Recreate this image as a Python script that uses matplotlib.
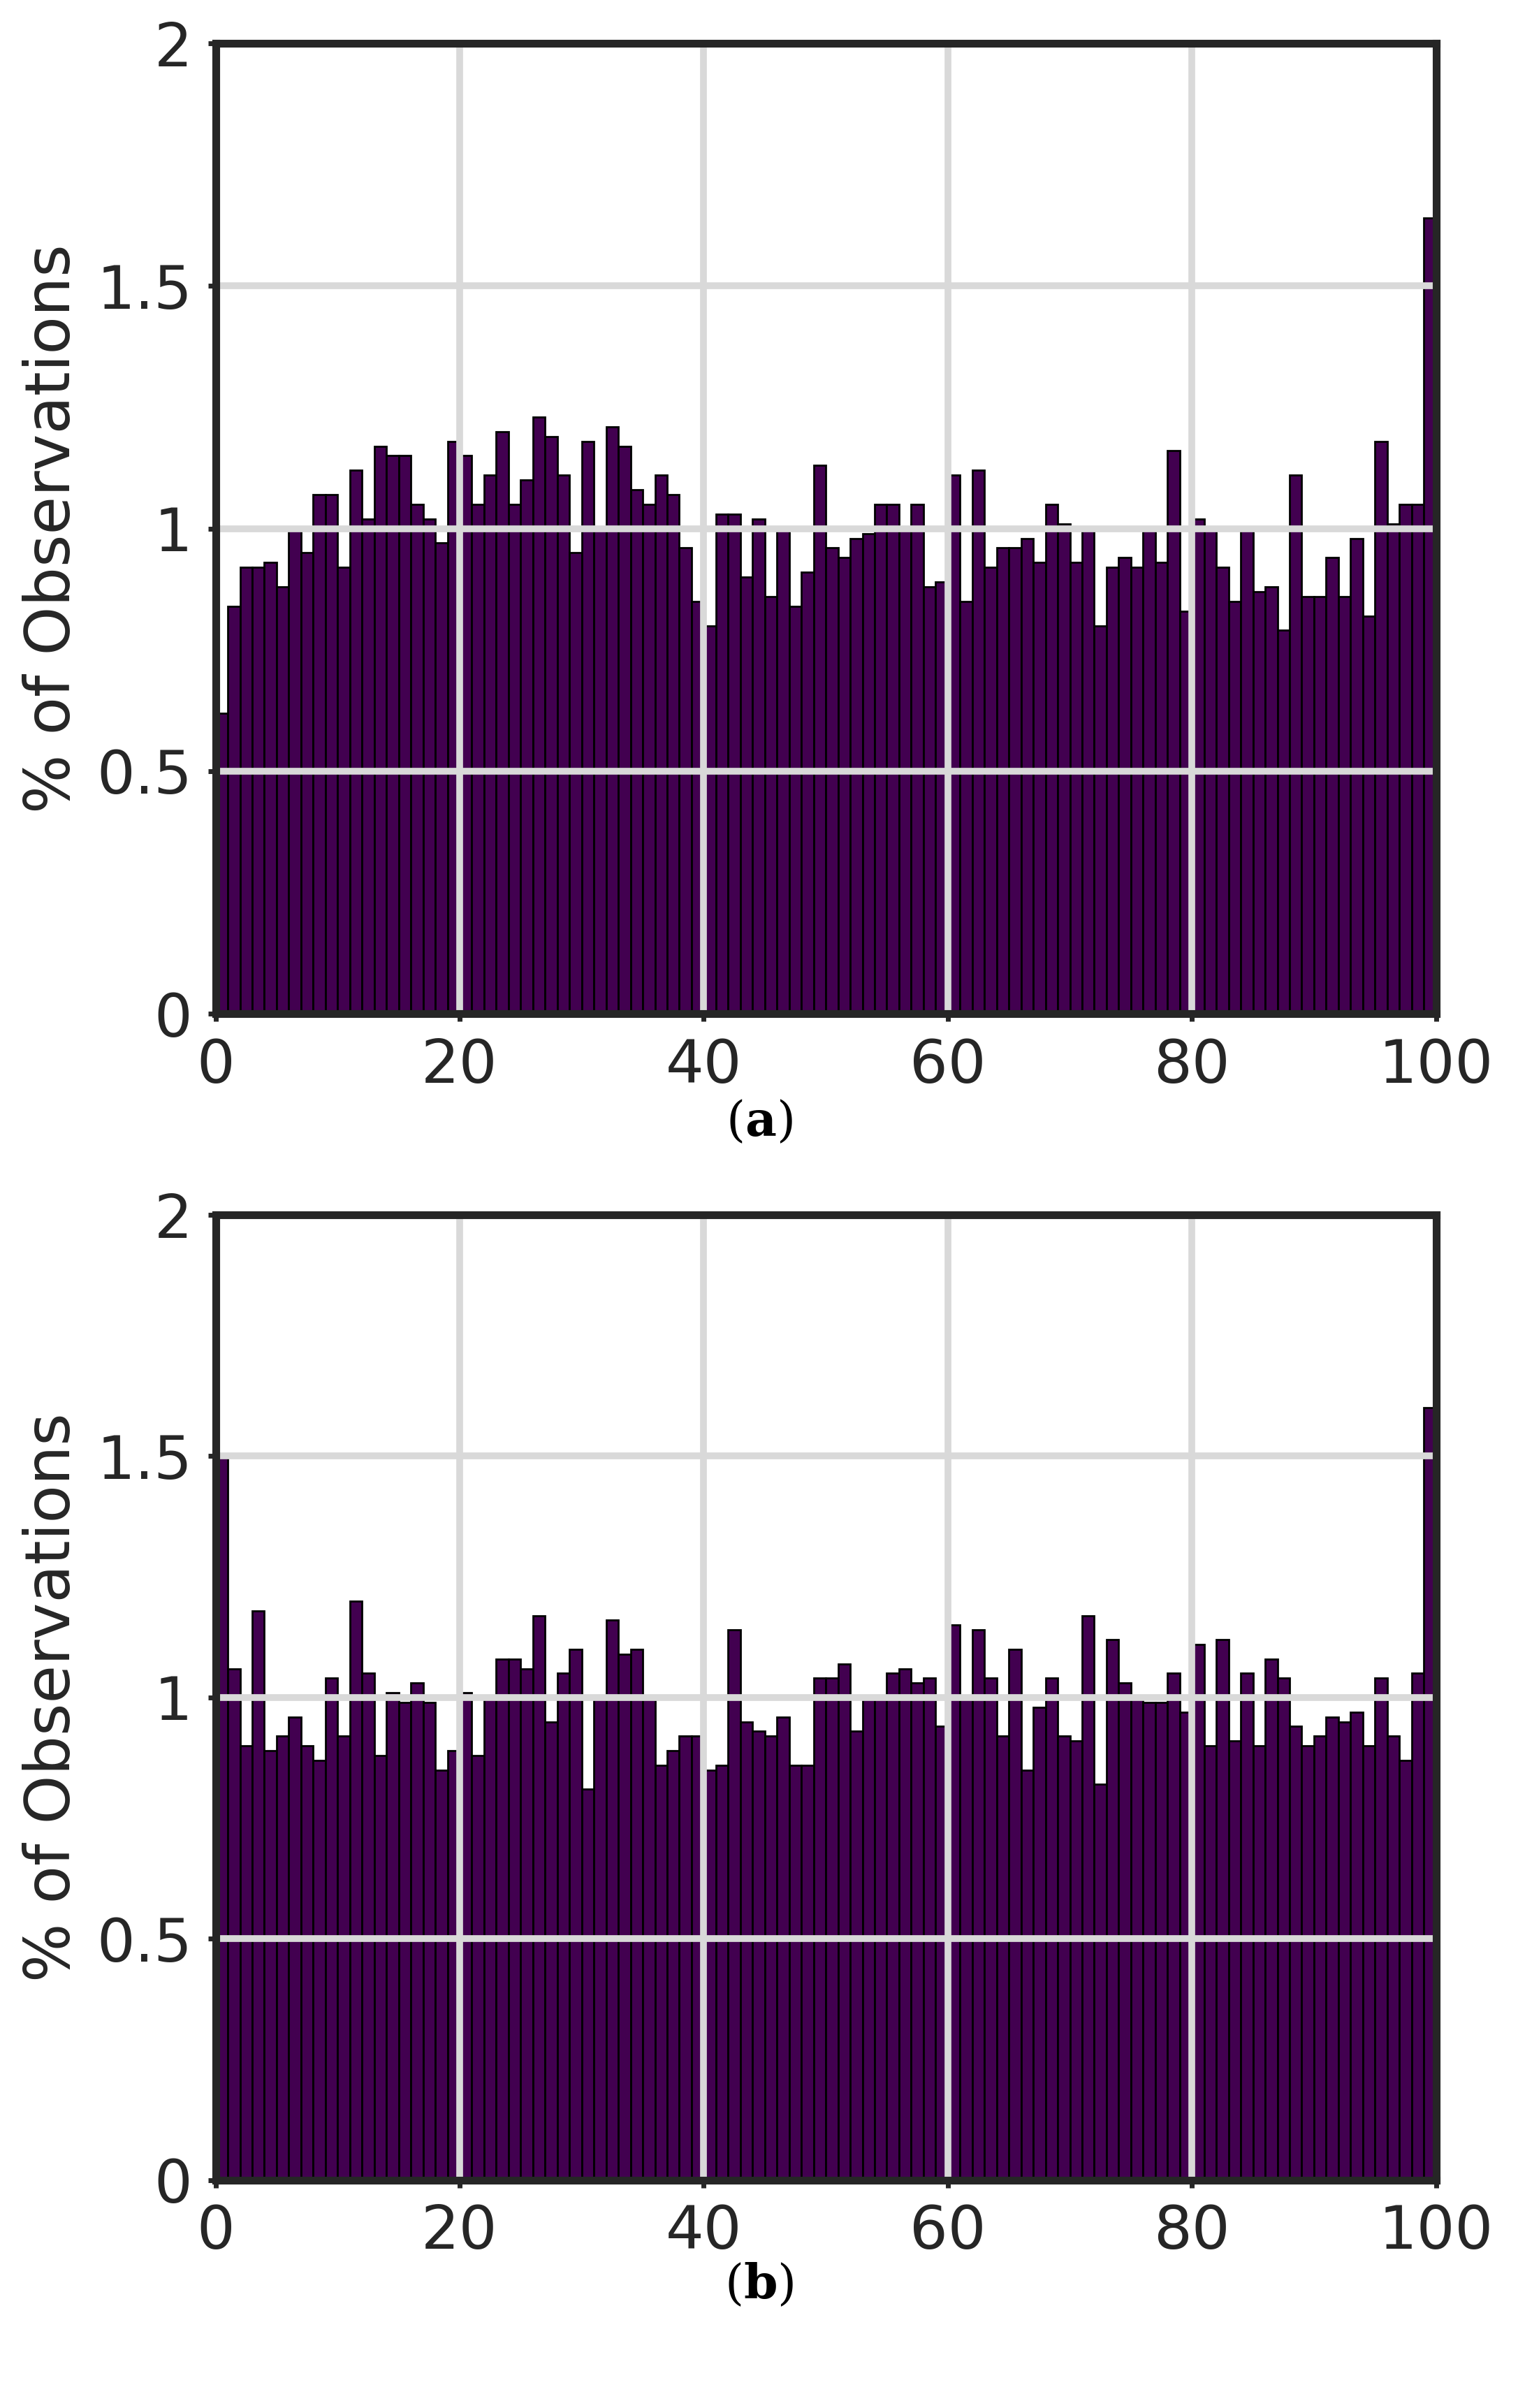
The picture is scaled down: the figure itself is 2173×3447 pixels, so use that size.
import numpy as np
import matplotlib
matplotlib.use("Agg")
import matplotlib.pyplot as plt

# bin values (% of observations), one per 1-unit bin from 0 to 100
vals_a = [0.62, 0.84, 0.92, 0.92, 0.93, 0.88, 1.00, 0.95, 1.07, 1.07,
          0.92, 1.12, 1.02, 1.17, 1.15, 1.15, 1.05, 1.02, 0.97, 1.18,
          1.15, 1.05, 1.11, 1.20, 1.05, 1.10, 1.23, 1.19, 1.11, 0.95,
          1.18, 1.00, 1.21, 1.17, 1.08, 1.05, 1.11, 1.07, 0.96, 0.85,
          0.80, 1.03, 1.03, 0.90, 1.02, 0.86, 1.00, 0.84, 0.91, 1.13,
          0.96, 0.94, 0.98, 0.99, 1.05, 1.05, 1.00, 1.05, 0.88, 0.89,
          1.11, 0.85, 1.12, 0.92, 0.96, 0.96, 0.98, 0.93, 1.05, 1.01,
          0.93, 1.00, 0.80, 0.92, 0.94, 0.92, 1.00, 0.93, 1.16, 0.83,
          1.02, 1.00, 0.92, 0.85, 1.00, 0.87, 0.88, 0.79, 1.11, 0.86,
          0.86, 0.94, 0.86, 0.98, 0.82, 1.18, 1.01, 1.05, 1.05, 1.64]
vals_b = [1.50, 1.06, 0.90, 1.18, 0.89, 0.92, 0.96, 0.90, 0.87, 1.04,
          0.92, 1.20, 1.05, 0.88, 1.01, 0.99, 1.03, 0.99, 0.85, 0.89,
          1.01, 0.88, 1.00, 1.08, 1.08, 1.06, 1.17, 0.95, 1.05, 1.10,
          0.81, 1.00, 1.16, 1.09, 1.10, 1.00, 0.86, 0.89, 0.92, 0.92,
          0.85, 0.86, 1.14, 0.95, 0.93, 0.92, 0.96, 0.86, 0.86, 1.04,
          1.04, 1.07, 0.93, 1.00, 1.00, 1.05, 1.06, 1.03, 1.04, 0.94,
          1.15, 1.00, 1.14, 1.04, 0.92, 1.10, 0.85, 0.98, 1.04, 0.92,
          0.91, 1.17, 0.82, 1.12, 1.03, 1.00, 0.99, 0.99, 1.05, 0.97,
          1.11, 0.90, 1.12, 0.91, 1.05, 0.90, 1.08, 1.04, 0.94, 0.90,
          0.92, 0.96, 0.95, 0.97, 0.90, 1.04, 0.92, 0.87, 1.05, 1.60]
bin_left = np.arange(100)
xticks = [0, 20, 40, 60, 80, 100]
yticks = [0, 0.5, 1, 1.5, 2]
ytick_labels = ["0", "0.5", "1", "1.5", "2"]
captions = ["a", "b"]

plt.rcParams["mathtext.fontset"] = "dejavuserif"
fig = plt.figure(figsize=(21.73, 34.47), dpi=100)
boxes = [[0.142, 0.579, 0.804, 0.403], [0.142, 0.0946, 0.804, 0.4009]]
cap_y = [0.534, 0.051]

for vals, box, cap, cy in zip([vals_a, vals_b], boxes, captions, cap_y):
    ax = fig.add_axes(box)
    ax.bar(bin_left, vals, width=1, align="edge", color="#420050",
           edgecolor="black", linewidth=2, zorder=2)
    ax.set_xlim(0, 100)
    ax.set_ylim(0, 2)
    ax.set_xticks(xticks)
    ax.set_yticks(yticks)
    ax.set_yticklabels(ytick_labels)
    ax.grid(True, color="#d9d9d9", linewidth=7, zorder=3)
    ax.set_axisbelow(False)
    for s in ax.spines.values():
        s.set_linewidth(8)
        s.set_color("#262626")
        s.set_zorder(4)
    ax.tick_params(labelsize=62, length=8, width=5, color="#262626",
                   labelcolor="#262626", pad=16)
    ax.set_ylabel("% of Observations", fontsize=64, color="#262626", labelpad=14)
    fig.text(0.5, cy, r"($\mathbf{%s}$)" % cap, ha="center", va="center",
             fontsize=50, family="DejaVu Serif")

fig.savefig("out.png", dpi=100, facecolor="white")
